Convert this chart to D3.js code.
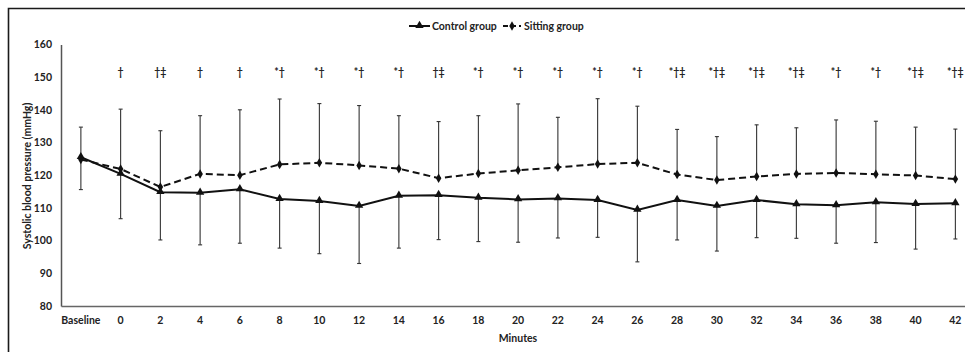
<!DOCTYPE html>
<html>
<head>
<meta charset="utf-8">
<script src="https://cdn.jsdelivr.net/npm/d3@7"></script>
<style>
  body { margin: 0; background: #fff; }
  text { font-family: Lato, "Open Sans", sans-serif; font-weight: 700; fill: #222; }
</style>
</head>
<body>
<div id="chart"></div>
<script>
// minutes after the session, "Baseline" first
const categories = ['Baseline', '0', '2', '4', '6', '8', '10', '12', '14', '16', '18', '20', '22',
  '24', '26', '28', '30', '32', '34', '36', '38', '40', '42'];

const controlMean = [125.5, 120.4, 114.8, 114.6, 115.7, 112.7, 112.1, 110.6, 113.7, 113.9, 113.1, 112.6,
  112.9, 112.4, 109.4, 112.4, 110.6, 112.4, 111.1, 110.8, 111.7, 111.2, 111.4];
const controlLow = [115.6, 106.7, 100.2, 98.7, 99.2, 97.7, 96.0, 93.0, 97.7, 100.3, 99.7, 99.5,
  100.8, 101.0, 93.5, 100.2, 96.8, 100.9, 100.7, 99.2, 99.4, 97.4, 100.5];

const sittingMean = [124.8, 121.9, 116.4, 120.4, 120.0, 123.3, 123.8, 123.0, 122.0, 119.1, 120.5, 121.5,
  122.4, 123.4, 123.8, 120.2, 118.5, 119.6, 120.4, 120.7, 120.3, 119.9, 118.8];
const sittingHigh = [134.7, 140.2, 133.6, 138.2, 140.0, 143.3, 141.9, 141.3, 138.2, 136.4, 138.2, 141.8,
  137.7, 143.4, 141.1, 134.0, 131.8, 135.4, 134.5, 136.9, 136.5, 134.7, 134.1];

const marks = ['', '†', '†‡', '†', '†', '*†', '*†', '*†', '*†', '†‡', '*†', '*†', '*†',
  '*†', '*†', '*†‡', '*†‡', '*†‡', '*†‡', '*†', '*†', '*†‡', '*†‡'];

const yTicks = [80, 90, 100, 110, 120, 130, 140, 150, 160];

const width = 965, height = 352;
const svg = d3.select('#chart').append('svg')
  .attr('width', width)
  .attr('height', height);

// outer frame (cropped at right and bottom in the original)
svg.append('path')
  .attr('d', `M8.5,${height + 2}V8.5H${width + 2}`)
  .attr('fill', 'none')
  .attr('stroke', '#1a1a1a')
  .attr('stroke-width', 1.6);

const x = d3.scaleBand().domain(categories).range([61, 61 + 23 * 39.75]).padding(0);
const y = d3.scaleLinear().domain([80, 160]).range([306, 44.4]);
const cx = c => x(c) + x.bandwidth() / 2;

// y axis
const yAxis = svg.append('g')
  .attr('transform', 'translate(61,0)')
  .call(d3.axisLeft(y).tickValues(yTicks).tickSize(0).tickPadding(9));
yAxis.select('.domain').attr('stroke', '#555').attr('stroke-width', 1.5);
yAxis.selectAll('text').attr('font-size', 10.5).attr('font-family', null).attr('fill', '#222');

// x axis
const xAxis = svg.append('g')
  .attr('transform', 'translate(0,306)')
  .call(d3.axisBottom(x).tickSize(0).tickPadding(11));
xAxis.select('.domain').attr('stroke', '#666').attr('stroke-width', 1.5);
xAxis.selectAll('text').attr('font-size', 10.5).attr('font-family', null).attr('fill', '#222');

// axis titles
svg.append('text')
  .attr('x', 518).attr('y', 342)
  .attr('text-anchor', 'middle')
  .attr('font-size', 10.5)
  .text('Minutes');

svg.append('text')
  .attr('transform', 'translate(31,176) rotate(-90)')
  .attr('text-anchor', 'middle')
  .attr('font-size', 10.5)
  .text('Systolic blood pressure (mmHg)');

// error bars
const bars = svg.append('g').attr('stroke', '#333').attr('stroke-width', 1.1);
categories.forEach((c, i) => {
  const px = cx(c);
  bars.append('line').attr('x1', px).attr('x2', px).attr('y1', y(controlMean[i])).attr('y2', y(controlLow[i]));
  bars.append('line').attr('x1', px - 2).attr('x2', px + 2).attr('y1', y(controlLow[i])).attr('y2', y(controlLow[i]));
  bars.append('line').attr('x1', px).attr('x2', px).attr('y1', y(sittingMean[i])).attr('y2', y(sittingHigh[i]));
  bars.append('line').attr('x1', px - 2).attr('x2', px + 2).attr('y1', y(sittingHigh[i])).attr('y2', y(sittingHigh[i]));
});

// lines
const line = d3.line().x((d, i) => cx(categories[i])).y(d => y(d));

svg.append('path')
  .datum(sittingMean)
  .attr('d', line)
  .attr('fill', 'none')
  .attr('stroke', '#111')
  .attr('stroke-width', 2)
  .attr('stroke-dasharray', '7,4');

svg.append('path')
  .datum(controlMean)
  .attr('d', line)
  .attr('fill', 'none')
  .attr('stroke', '#111')
  .attr('stroke-width', 2);

// markers
const tri = d3.symbol().type(d3.symbolTriangle).size(30);
const dia = d3.symbol().type(d3.symbolDiamond).size(26);

svg.append('g').selectAll('path')
  .data(sittingMean)
  .join('path')
  .attr('d', dia)
  .attr('transform', (d, i) => `translate(${cx(categories[i])},${y(d)})`)
  .attr('fill', '#111');

svg.append('g').selectAll('path')
  .data(controlMean)
  .join('path')
  .attr('d', tri)
  .attr('transform', (d, i) => `translate(${cx(categories[i])},${y(d) - 0.5})`)
  .attr('fill', '#111');

// significance marks
svg.append('g').selectAll('text')
  .data(marks)
  .join('text')
  .attr('x', (d, i) => cx(categories[i]))
  .attr('y', 76)
  .attr('text-anchor', 'middle')
  .attr('font-size', 10.5)
  .text(d => d);

// legend
const legend = svg.append('g');
legend.append('line').attr('x1', 409).attr('x2', 430).attr('y1', 26).attr('y2', 26)
  .attr('stroke', '#111').attr('stroke-width', 2);
legend.append('path').attr('d', tri).attr('transform', 'translate(419.5,25.5)').attr('fill', '#111');
legend.append('text').attr('x', 432).attr('y', 29.5).attr('font-size', 10.5).text('Control group');

legend.append('line').attr('x1', 503).attr('x2', 521).attr('y1', 26).attr('y2', 26)
  .attr('stroke', '#111').attr('stroke-width', 2).attr('stroke-dasharray', '5,3');
legend.append('path').attr('d', dia).attr('transform', 'translate(512,26)').attr('fill', '#111');
legend.append('text').attr('x', 524).attr('y', 29.5).attr('font-size', 10.5).text('Sitting group');
</script>
</body>
</html>
